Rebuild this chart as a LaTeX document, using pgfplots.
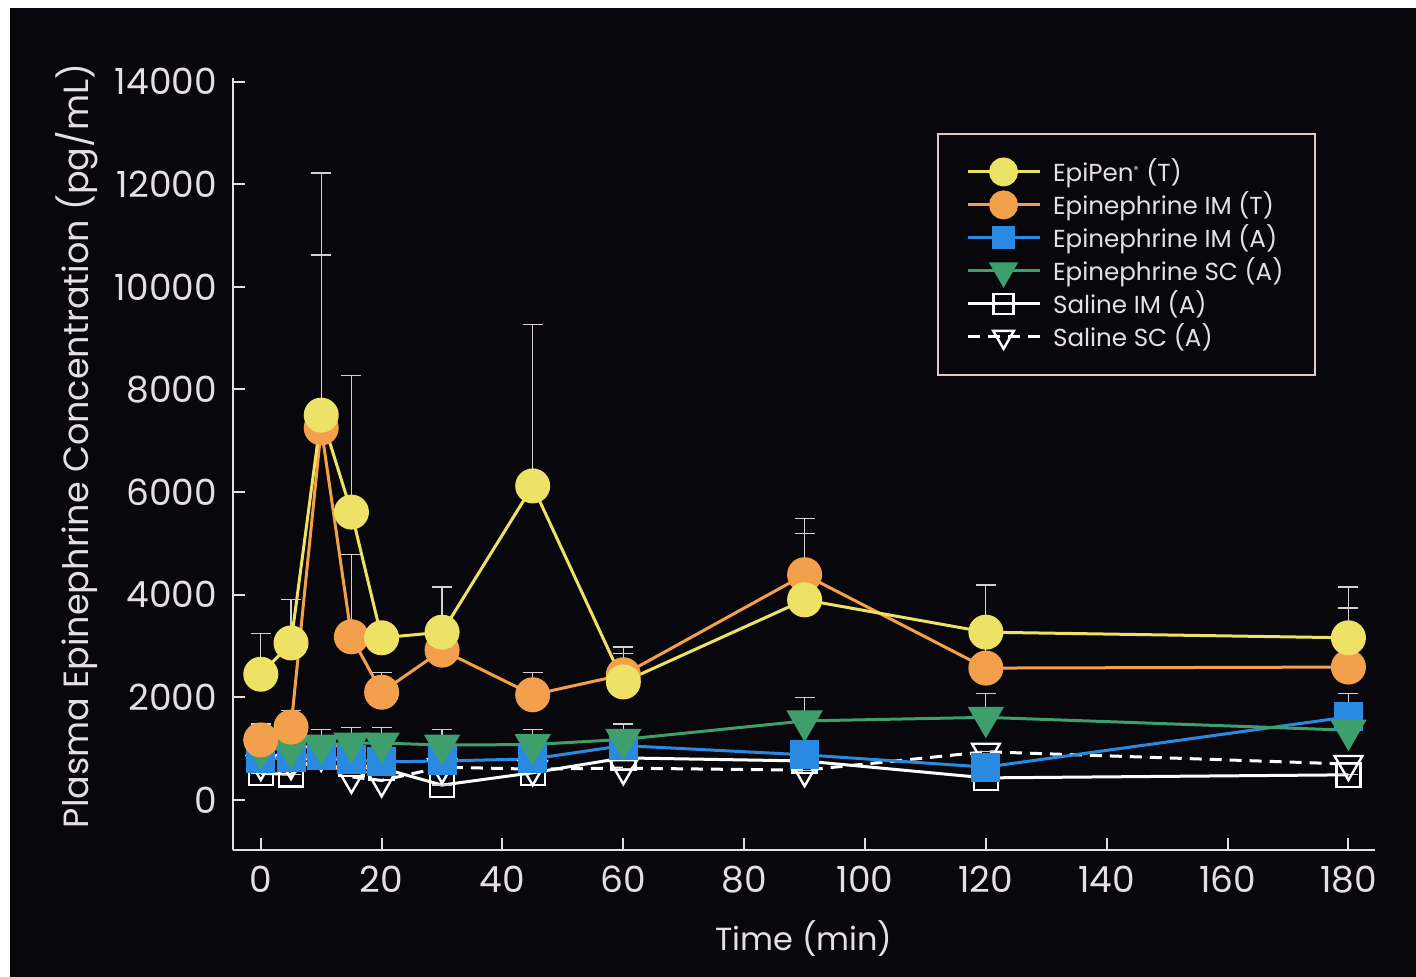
\documentclass[border=0pt]{standalone}
\usepackage{pgfplots}
\pgfplotsset{compat=1.18}
\usepackage{fontspec}
\setmainfont{Poppins}

\definecolor{bg}{HTML}{08080C}
\definecolor{txt}{HTML}{E6DEE6}
\definecolor{epiyel}{HTML}{EEE266}
\definecolor{epiorg}{HTML}{F2A04C}
\definecolor{epiblu}{HTML}{2A8AE2}
\definecolor{epigrn}{HTML}{3E9E6C}
\definecolor{errc}{HTML}{D8D0D0}

\pgfplotsset{
  ser/.style={line width=1.5pt,
    error bars/y dir=plus, error bars/y explicit,
    error bars/error bar style={errc, line width=0.6pt},
    error bars/error mark options={errc, line width=0.6pt, rotate=90, mark size=5pt}},
  epipen/.style={ser, color=epiyel, mark=*, mark size=8pt, mark options={fill=epiyel, draw=epiyel}},
  imt/.style={ser, color=epiorg, mark=*, mark size=8pt, mark options={fill=epiorg, draw=epiorg}},
  ima/.style={ser, color=epiblu, mark=square*, mark size=6.5pt, mark options={fill=epiblu, draw=epiblu}},
  sca/.style={ser, color=epigrn, mark=triangle*, mark size=9pt, mark options={rotate=180, fill=epigrn, draw=epigrn}},
  salim/.style={ser, color=white, mark=square, mark size=6pt, mark options={line width=1.2pt}},
  salsc/.style={ser, color=white, dash pattern=on 6pt off 4pt, mark=triangle, mark size=8pt,
    mark options={solid, rotate=180, line width=1.2pt}},
}

\begin{document}
\begin{tikzpicture}
\fill[white] (0pt,0pt) rectangle (708pt,488.5pt);
\fill[bg] (5pt,0pt) rectangle (708pt,484.5pt);
\begin{axis}[
    at={(116.5pt,63.5pt)}, anchor=south west,
    scale only axis, width=571pt, height=386pt,
    xmin=-4.6, xmax=184.4, ymin=-975, ymax=14070,
    axis x line*=bottom, axis y line*=left,
    axis line style={txt, line width=1.2pt},
    xtick={0,20,...,180}, ytick={0,2000,...,14000},
    scaled y ticks=false,
    major tick length=6pt, tick style={txt, line width=1pt},
    /pgf/number format/assume math mode=true,
    /pgf/number format/set thousands separator={},
    tick label style={txt, font=\fontsize{18}{20}\selectfont},
    yticklabel style={xshift=-4.5pt},
    xticklabel style={yshift=-4.5pt},
    xlabel={Time (min)}, ylabel={Plasma Epinephrine Concentration (pg/mL)},
    label style={txt},
    xlabel style={font=\fontsize{16}{18}\selectfont, yshift=-7pt},
    ylabel style={font=\fontsize{17.5}{20}\selectfont, yshift=1.5pt, xshift=9pt},
    legend style={at={(0.6165,0.9288)}, anchor=north west, fill=bg, draw=txt!80!brown,
      line width=1pt, text=txt, font=\fontsize{12.3}{14}\selectfont,
      inner xsep=14pt, inner ysep=10.5pt, row sep=-0.5pt,
      /tikz/every odd column/.append style={column sep=4pt}},
    legend cell align=left,
    legend image code/.code={\draw[mark repeat=2, mark phase=2]
      plot coordinates {(0pt,0pt) (18pt,0pt) (36pt,0pt)};},
  ]
  % legend entries first, in the reference's order
  \addlegendimage{epipen, mark size=6.5pt}
  \addlegendentry{EpiPen\textsuperscript{\tiny®} (T)}
  \addlegendimage{imt, mark size=6.5pt}
  \addlegendentry{Epinephrine IM (T)}
  \addlegendimage{ima, mark size=5pt}
  \addlegendentry{Epinephrine IM (A)}
  \addlegendimage{sca, mark size=7pt}
  \addlegendentry{Epinephrine SC (A)}
  \addlegendimage{salim, mark size=5pt}
  \addlegendentry{Saline IM (A)}
  \addlegendimage{salsc, mark size=6pt}
  \addlegendentry{Saline SC (A)}

  % Saline SC (A)
  \addplot[salsc, forget plot] coordinates {
    (0,700) +- (0,0) (5,720) +- (0,0) (10,880) +- (0,0) (15,450) +- (0,0)
    (20,380) +- (0,0) (30,640) +- (0,0) (45,600) +- (0,0) (60,620) +- (0,0)
    (90,580) +- (0,0) (120,940) +- (0,0) (180,700) +- (0,0)};
  % Saline IM (A)
  \addplot[salim, forget plot] coordinates {
    (0,520) +- (0,0) (5,500) +- (0,0) (10,900) +- (0,0) (15,700) +- (0,0)
    (20,620) +- (0,0) (30,290) +- (0,0) (45,530) +- (0,0) (60,820) +- (0,0)
    (90,760) +- (0,0) (120,430) +- (0,0) (180,490) +- (0,0)};
  % Epinephrine IM (A)
  \addplot[ima, forget plot] coordinates {
    (0,800) +- (0,150) (5,820) +- (0,150) (10,860) +- (0,150) (15,780) +- (0,150)
    (20,740) +- (0,150) (30,760) +- (0,150) (45,800) +- (0,150) (60,1060) +- (0,150)
    (90,880) +- (0,150) (120,640) +- (0,200) (180,1620) +- (0,460)};
  % Epinephrine SC (A)
  \addplot[sca, forget plot] coordinates {
    (0,980) +- (0,300) (5,1000) +- (0,300) (10,1070) +- (0,300) (15,1110) +- (0,300)
    (20,1110) +- (0,300) (30,1070) +- (0,300) (45,1080) +- (0,300) (60,1180) +- (0,300)
    (90,1540) +- (0,460) (120,1610) +- (0,470) (180,1360) +- (0,300)};
  % Epinephrine IM (T)
  \addplot[imt, forget plot] coordinates {
    (0,1170) +- (0,310) (5,1420) +- (0,330) (10,7250) +- (0,3370) (15,3180) +- (0,1600)
    (20,2100) +- (0,380) (30,2920) +- (0,0) (45,2050) +- (0,430) (60,2440) +- (0,420)
    (90,4390) +- (0,1090) (120,2570) +- (0,650) (180,2590) +- (0,1150)};
  % EpiPen (T)
  \addplot[epipen, forget plot] coordinates {
    (0,2450) +- (0,800) (5,3060) +- (0,840) (10,7500) +- (0,4720) (15,5610) +- (0,2660)
    (20,3160) +- (0,0) (30,3270) +- (0,880) (45,6120) +- (0,3140) (60,2300) +- (0,680)
    (90,3900) +- (0,1300) (120,3270) +- (0,920) (180,3160) +- (0,990)};
\end{axis}
\end{tikzpicture}
\end{document}
